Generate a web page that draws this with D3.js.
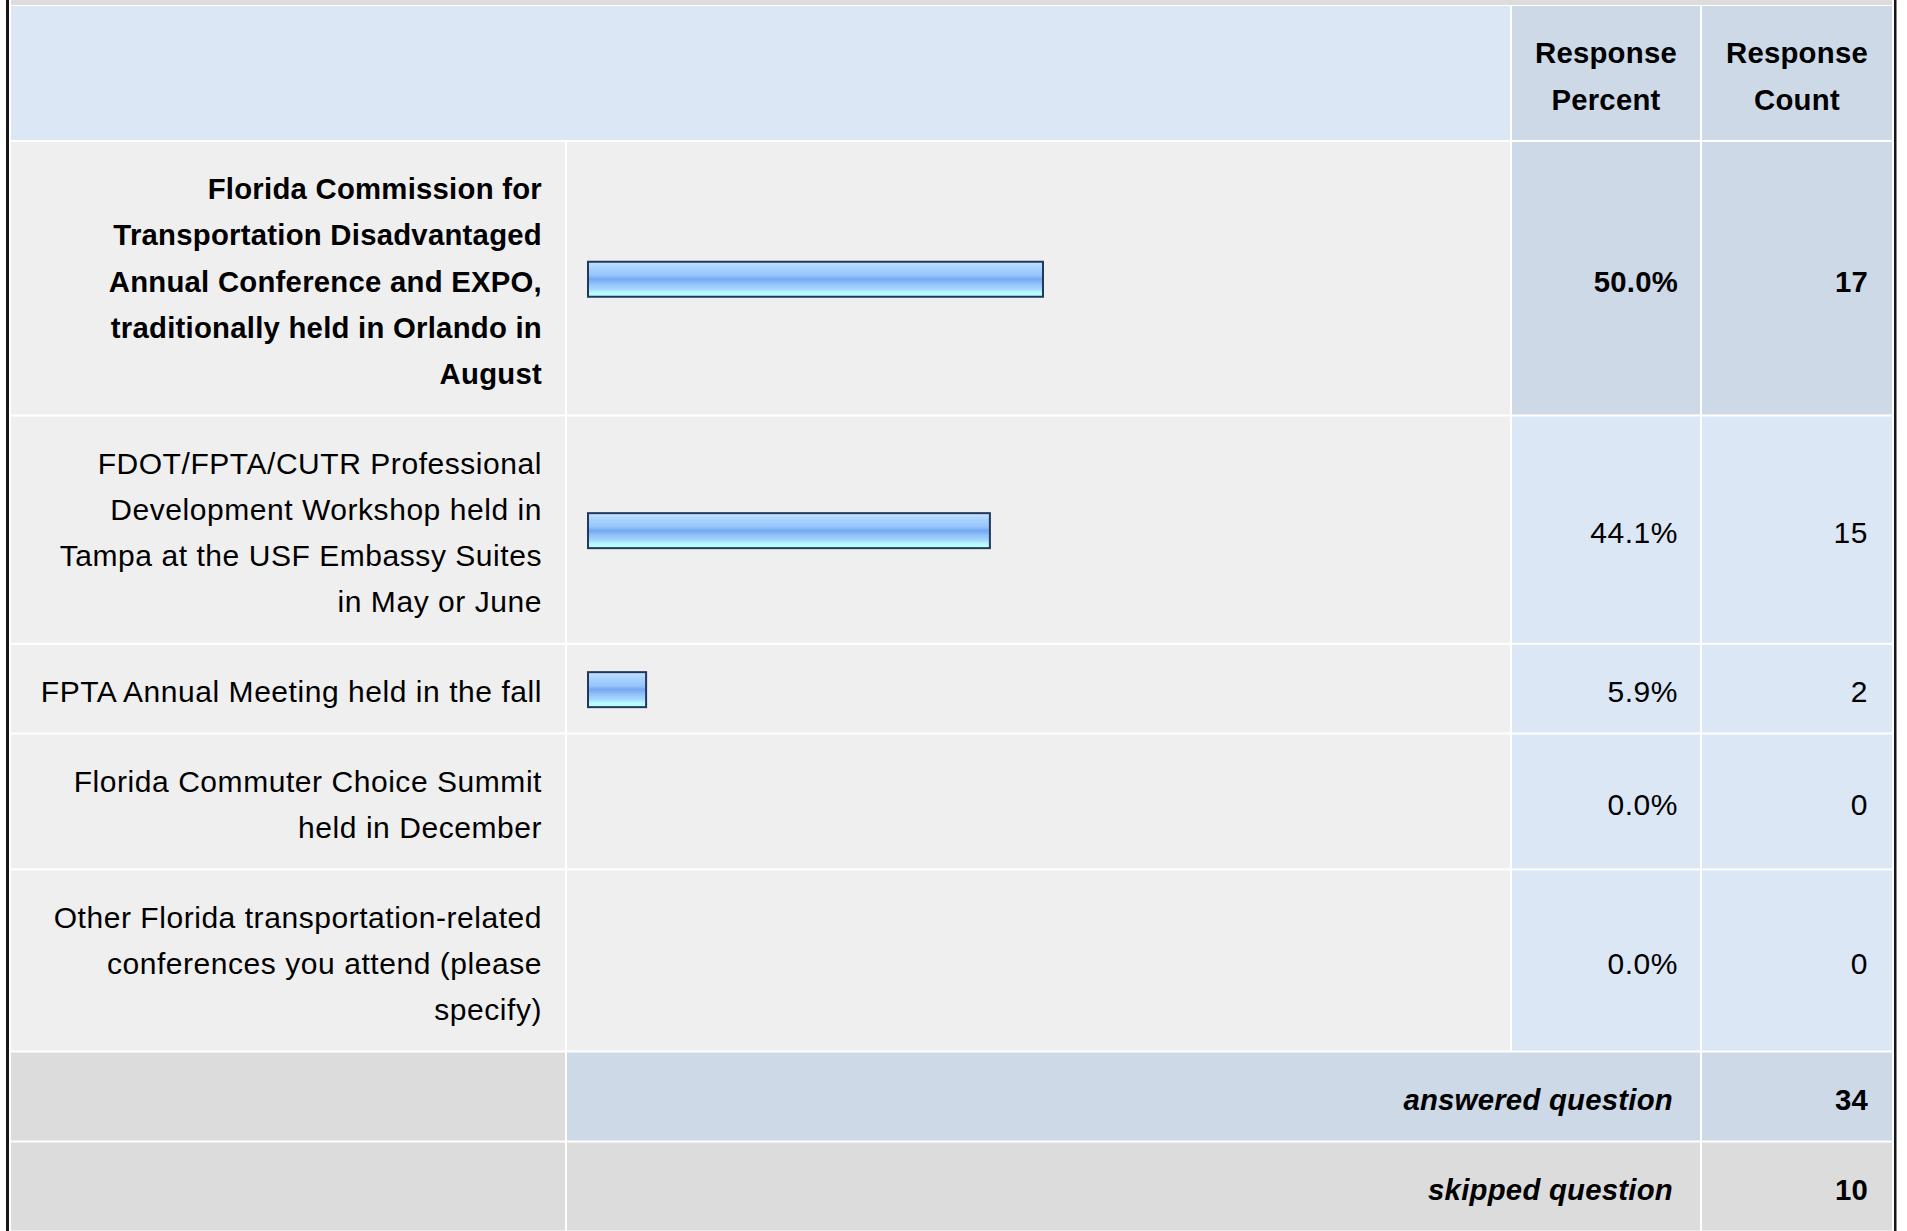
<!DOCTYPE html>
<html>
<head>
<meta charset="utf-8">
<script src="https://cdn.jsdelivr.net/npm/d3@7"></script>
<style>
  body { margin: 0; background: #fff; }
  svg { display: block; }
</style>
</head>
<body>
<svg id="chart"></svg>
<script>
const answers = [
  "Florida Commission for Transportation Disadvantaged Annual Conference and EXPO, traditionally held in Orlando in August",
  "FDOT/FPTA/CUTR Professional Development Workshop held in Tampa at the USF Embassy Suites in May or June",
  "FPTA Annual Meeting held in the fall",
  "Florida Commuter Choice Summit held in December",
  "Other Florida transportation-related conferences you attend (please specify)"
];
const percents = [50.0, 44.1, 5.9, 0.0, 0.0];
const counts = [17, 15, 2, 0, 0];
const headerPercent = ["Response", "Percent"];
const headerCount = ["Response", "Count"];
const footerLabels = ["answered question", "skipped question"];
const footerCounts = [34, 10];

const width = 1907, height = 1231;
const font = "'Liberation Sans', Arial, Helvetica, sans-serif";
// regular and bold text are sized a little differently to match the hinted original
const regular = { size: 30, spacing: 0.55 };
const boldFace = { size: 29.3, spacing: 0.25 };
const lineH = 46.2, rowPad = 41.5, wrapWidth = 507;
const cols = {
  label: [11, 565],
  bar: [567, 1510],
  pct: [1512, 1700],
  count: [1702, 1892]
};
const colors = {
  header: "#dce7f5",
  headerDark: "#cdd9e7",
  row: "#efefef",
  gray: "#dcdcdc",
  border: "#161616"
};

const $svg = d3.select("#chart").attr("width", width).attr("height", height);
const topIndex = d3.maxIndex(counts);

// gradient for the bars
const grad = $svg.append("defs").append("linearGradient")
  .attr("id", "barGrad").attr("x1", 0).attr("y1", 0).attr("x2", 0).attr("y2", 1);
[[0, "#c4e4ff"], [0.18, "#a8d3ff"], [0.38, "#98c6fb"], [0.5, "#76a8f0"],
 [0.62, "#90c0f8"], [0.78, "#a6d8ff"], [0.88, "#b6fbff"], [1, "#baffff"]]
  .forEach(s => grad.append("stop").attr("offset", s[0]).attr("stop-color", s[1]));

function face(sel, bold) {
  const f = bold ? boldFace : regular;
  return sel
    .attr("font-family", font)
    .attr("font-size", f.size)
    .attr("letter-spacing", f.spacing)
    .attr("font-weight", bold ? "bold" : "normal");
}

const measure = $svg.append("text").attr("visibility", "hidden");

function wrap(str, bold, maxW) {
  face(measure, bold);
  const words = str.split(" ");
  const lines = [];
  let line = words[0];
  for (let i = 1; i < words.length; i++) {
    const test = line + " " + words[i];
    measure.text(test);
    if (measure.node().getComputedTextLength() > maxW) {
      lines.push(line);
      line = words[i];
    } else {
      line = test;
    }
  }
  lines.push(line);
  return lines;
}

function cell(x0, x1, y0, h, fill) {
  $svg.append("rect")
    .attr("x", x0).attr("y", y0)
    .attr("width", x1 - x0).attr("height", h)
    .attr("fill", fill);
}

function lines(textLines, x, center, anchor, opts = {}) {
  const t = face($svg.append("text"), opts.bold)
    .attr("font-style", opts.italic ? "italic" : "normal")
    .attr("text-anchor", anchor)
    .attr("fill", "#000");
  const n = textLines.length;
  textLines.forEach((l, i) => {
    t.append("tspan")
      .attr("x", x)
      .attr("y", center + 3 + (i - (n - 1) / 2) * lineH + 10.4)
      .text(l);
  });
}

// top strip (previous row cut off)
cell(cols.label[0], cols.count[1], 0, 5, colors.gray);

// header
cell(cols.label[0], cols.bar[1], 6, 134, colors.header);
cell(cols.pct[0], cols.pct[1], 6, 134, colors.headerDark);
cell(cols.count[0], cols.count[1], 6, 134, colors.headerDark);
lines(headerPercent, (cols.pct[0] + cols.pct[1]) / 2, 73, "middle", { bold: true });
lines(headerCount, (cols.count[0] + cols.count[1]) / 2, 73, "middle", { bold: true });

// answer rows
let yPos = 142;
const rows = answers.map((a, i) => {
  const bold = i === topIndex;
  const ls = wrap(a, bold, wrapWidth);
  const h = ls.length * lineH + rowPad;
  const r = { i, bold, lines: ls, y0: yPos, h, center: yPos + h / 2 };
  yPos += h + 2;
  return r;
});

const x = d3.scaleLinear().domain([0, 100]).range([5, 905]);
const barX = 588, barH = 35;

rows.forEach(r => {
  const pctFill = r.bold ? colors.headerDark : colors.header;
  cell(cols.label[0], cols.label[1], r.y0, r.h, colors.row);
  cell(cols.bar[0], cols.bar[1], r.y0, r.h, colors.row);
  cell(cols.pct[0], cols.pct[1], r.y0, r.h, pctFill);
  cell(cols.count[0], cols.count[1], r.y0, r.h, pctFill);

  lines(r.lines, cols.label[1] - 23, r.center, "end", { bold: r.bold });
  lines([percents[r.i].toFixed(1) + "%"], cols.pct[1] - 22, r.center, "end", { bold: r.bold });
  lines([String(counts[r.i])], cols.count[1] - 24, r.center, "end", { bold: r.bold });

  if (percents[r.i] > 0) {
    $svg.append("rect")
      .attr("class", "bar")
      .attr("x", barX)
      .attr("y", r.center + 1 - barH / 2)
      .attr("width", x(percents[r.i]))
      .attr("height", barH)
      .attr("fill", "url(#barGrad)")
      .attr("stroke", "#22395c")
      .attr("stroke-width", 2);
  }
});

// footer rows
footerLabels.forEach((lab, i) => {
  const y0 = yPos + i * 90, h = 88;
  const mid = i === 0 ? colors.headerDark : colors.gray;
  cell(cols.label[0], cols.label[1], y0, h, colors.gray);
  cell(cols.bar[0], cols.pct[1], y0, h, mid);
  cell(cols.count[0], cols.count[1], y0, h, mid);
  lines([lab], cols.pct[1] - 27, y0 + h / 2, "end", { bold: true, italic: true });
  lines([String(footerCounts[i])], cols.count[1] - 24, y0 + h / 2, "end", { bold: true });
});

// outer black borders
$svg.append("rect").attr("x", 6).attr("y", 0).attr("width", 3).attr("height", height).attr("fill", colors.border);
$svg.append("rect").attr("x", 1894).attr("y", 0).attr("width", 2.5).attr("height", height).attr("fill", colors.border);

measure.remove();
</script>
</body>
</html>
